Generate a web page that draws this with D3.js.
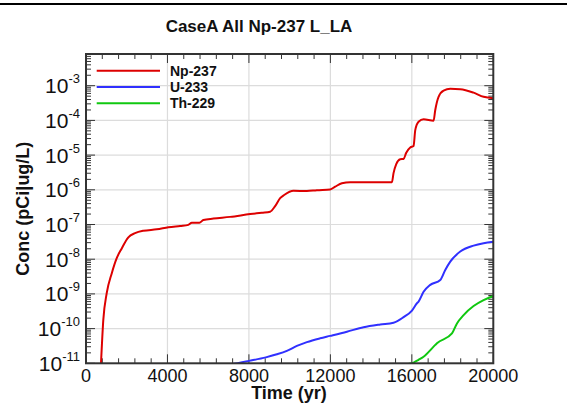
<!DOCTYPE html>
<html>
<head>
<meta charset="utf-8">
<script src="https://cdn.jsdelivr.net/npm/d3@7"></script>
<style>
  html, body { margin: 0; padding: 0; background: #fff; overflow: hidden; }
  svg { display: block; }
  text { font-family: "Liberation Sans", Arial, sans-serif; fill: #111; }
</style>
</head>
<body>
<div id="chart"></div>
<script>
// values (time in yr, concentration in pCi|ug/L)
const npTime = [737, 850, 1017, 1263, 1509, 1754, 2079, 2408, 2816, 3474, 4044, 4619, 5027, 5194, 5568, 5764,
    6256, 7076, 8059, 8634, 9042, 9288, 9533, 9730, 10187, 10846, 11337, 11990, 12236, 12565, 12973, 15022,
    15101, 15234, 15430, 15593, 15725, 15922, 16084, 16168, 16330, 16576, 17067, 17150, 17312, 17558, 17887,
    18378, 19032, 19523, 20000];
const npLog = [-11, -9.75, -8.98, -8.41, -7.97, -7.69, -7.37, -7.25, -7.18, -7.14, -7.08, -7.04, -7.01, -6.95, -6.95, -6.87,
    -6.83, -6.78, -6.70, -6.66, -6.63, -6.47, -6.24, -6.15, -6.03, -6.035, -6.01, -5.99, -5.91, -5.81, -5.78, -5.78,
    -5.52, -5.26, -5.12, -5.11, -4.93, -4.78, -4.74, -4.28, -4.04, -3.97, -4.01, -3.70, -3.32, -3.14, -3.09,
    -3.10, -3.20, -3.32, -3.36];

const uTime = [7189, 8010, 8831, 9371, 9863, 10354, 10846, 11499, 11990, 12811, 13627, 14447, 15101, 15593, 16006,
    16251, 16330, 16576, 16904, 17396, 17641, 17887, 18378, 19032, 19523, 20000];
const uLog = [-11.02, -10.93, -10.83, -10.74, -10.64, -10.50, -10.39, -10.28, -10.21, -10.09, -9.96, -9.88, -9.83, -9.67, -9.48,
    -9.27, -9.22, -8.94, -8.74, -8.60, -8.31, -8.07, -7.78, -7.61, -7.54, -7.50];

const thTime = [15760, 16084, 16330, 16576, 17067, 17234, 17971, 18216, 18541, 19032, 19523, 20000];
const thLog = [-11.03, -10.98, -10.90, -10.81, -10.52, -10.42, -10.14, -9.85, -9.61, -9.35, -9.18, -9.06];

const seriesNames = ['Np-237', 'U-233', 'Th-229'];
const seriesColors = ['#dd0000', '#3030ff', '#10c810'];
const xMajor = [0, 4000, 8000, 12000, 16000, 20000];
const yDecades = [-11, -10, -9, -8, -7, -6, -5, -4, -3];

const dim = { width: 567, height: 408, left: 86, right: 493.3, top: 54, bottom: 363.3 };

const toPoints = (ts, ls) => ts.map((t, i) => ({ t: t, v: Math.pow(10, ls[i]) }));
const series = [toPoints(npTime, npLog), toPoints(uTime, uLog), toPoints(thTime, thLog)];

const x = d3.scaleLinear().domain([0, 20000]).range([dim.left, dim.right]);
const y = d3.scaleLog().domain([1e-11, 8.2e-3]).range([dim.bottom, dim.top]);

const svg = d3.select('#chart')
    .append('svg')
        .attr('width', dim.width)
        .attr('height', dim.height);

// rule left over from the page above
svg.append('line')
    .attr('x1', 0).attr('x2', dim.width)
    .attr('y1', 4).attr('y2', 4)
    .attr('stroke', '#000')
    .attr('stroke-width', 2);

svg.append('text')
    .attr('x', 259)
    .attr('y', 32)
    .attr('text-anchor', 'middle')
    .attr('font-size', '17px')
    .attr('font-weight', 'bold')
    .text('CaseA All Np-237 L_LA');

svg.append('clipPath')
    .attr('id', 'plot-clip')
    .append('rect')
        .attr('x', dim.left).attr('y', dim.top)
        .attr('width', dim.right - dim.left)
        .attr('height', dim.bottom - dim.top);

// grid
const grid = svg.append('g').attr('stroke', '#dcdcdc').attr('stroke-width', 1.2);
xMajor.slice(1, -1).forEach(t => {
    grid.append('line')
        .attr('x1', x(t)).attr('x2', x(t))
        .attr('y1', dim.top).attr('y2', dim.bottom);
});
yDecades.slice(1).forEach(p => {
    grid.append('line')
        .attr('x1', dim.left).attr('x2', dim.right)
        .attr('y1', y(Math.pow(10, p))).attr('y2', y(Math.pow(10, p)));
});

// ticks, pointing inward on all four sides
const ticks = svg.append('g').attr('stroke', '#333').attr('stroke-width', 1);
d3.range(0, 20001, 800).forEach(t => {
    const len = t % 4000 === 0 ? 9 : 5;
    ticks.append('line').attr('x1', x(t)).attr('x2', x(t))
        .attr('y1', dim.bottom).attr('y2', dim.bottom - len);
    ticks.append('line').attr('x1', x(t)).attr('x2', x(t))
        .attr('y1', dim.top).attr('y2', dim.top + len);
});
y.ticks(100).forEach(v => {
    const m = Math.round(v / Math.pow(10, Math.floor(Math.log10(v) + 1e-9)));
    const len = m === 1 ? 9 : 5;
    ticks.append('line').attr('x1', dim.left).attr('x2', dim.left + len)
        .attr('y1', y(v)).attr('y2', y(v));
    ticks.append('line').attr('x1', dim.right).attr('x2', dim.right - len)
        .attr('y1', y(v)).attr('y2', y(v));
});

// curves
const line = d3.line()
    .x(d => x(d.t))
    .y(d => y(d.v))
    .curve(d3.curveMonotoneX);

const curves = svg.append('g').attr('clip-path', 'url(#plot-clip)');
series.forEach((s, i) => {
    curves.append('path')
        .datum(s)
        .attr('fill', 'none')
        .attr('stroke', seriesColors[i])
        .attr('stroke-width', 2)
        .attr('d', line);
});

// frame
svg.append('rect')
    .attr('x', dim.left).attr('y', dim.top)
    .attr('width', dim.right - dim.left)
    .attr('height', dim.bottom - dim.top)
    .attr('fill', 'none')
    .attr('stroke', '#333')
    .attr('stroke-width', 2);

// axis labels
xMajor.forEach(t => {
    svg.append('text')
        .attr('x', x(t))
        .attr('y', 381.5)
        .attr('text-anchor', 'middle')
        .attr('font-size', '18px')
        .text(t);
});

yDecades.forEach(p => {
    const lbl = svg.append('text')
        .attr('x', 80)
        .attr('y', y(Math.pow(10, p)) + 7.5)
        .attr('text-anchor', 'end')
        .attr('font-size', '21px');
    lbl.append('tspan').text('10');
    lbl.append('tspan')
        .attr('dy', -10)
        .attr('font-size', '13px')
        .text(p);
});

svg.append('text')
    .attr('x', 289)
    .attr('y', 399)
    .attr('text-anchor', 'middle')
    .attr('font-size', '18px')
    .attr('font-weight', 'bold')
    .text('Time (yr)');

svg.append('text')
    .attr('transform', `translate(29, ${(dim.top + dim.bottom) / 2}) rotate(-90)`)
    .attr('text-anchor', 'middle')
    .attr('font-size', '18px')
    .attr('font-weight', 'bold')
    .text('Conc (pCi|ug/L)');

// legend
const legend = svg.append('g');
seriesNames.forEach((name, i) => {
    const ly = 70.7 + i * 16.3;
    legend.append('line')
        .attr('x1', 96.7).attr('x2', 160)
        .attr('y1', ly).attr('y2', ly)
        .attr('stroke', seriesColors[i])
        .attr('stroke-width', 2);
    legend.append('text')
        .attr('x', 170)
        .attr('y', ly + 4.8)
        .attr('font-size', '14px')
        .attr('font-weight', 'bold')
        .text(name);
});
</script>
</body>
</html>
